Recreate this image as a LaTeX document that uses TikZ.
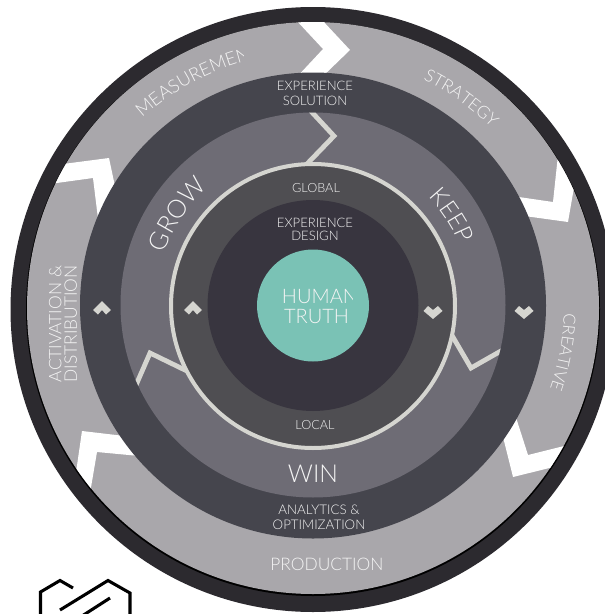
\documentclass[tikz,border=0pt]{standalone}
\usepackage{fontspec}
\setmainfont{Lato}[UprightFont=* Light]
\usetikzlibrary{calc,decorations.text}
\definecolor{rimdark}{HTML}{2C2A2F}
\definecolor{ringgrey}{HTML}{A9A7AB}
\definecolor{ringslate}{HTML}{45454D}
\definecolor{ringmid}{HTML}{6E6C75}
\definecolor{ringpale}{HTML}{D5D5D0}
\definecolor{ringinner}{HTML}{4F4E52}
\definecolor{ringcore}{HTML}{38353F}
\definecolor{truthteal}{HTML}{7AC2B5}
\definecolor{labelwhite}{HTML}{F4F4F4}
\def\arclabel[#1](#2:#3:#4)#5{\path[decorate,decoration={text along path,text align=center,text={|\fontsize{#1}{#1}\selectfont\color{labelwhite}|#5}}] plot[domain=#2:#3,samples=40] ({313+#4*cos(\x)},{306+#4*sin(\x)});}
\tikzset{
	label/.style={text=labelwhite,align=center,inner sep=0pt,font=\fontsize{#1}{#1}\selectfont},
	chevron/.style={fill=white,draw=none},
	zigzag/.style={draw=ringpale,line width=3.6pt,line join=miter},
	tickmark/.style={fill=ringpale,draw=none},
}
\begin{document}
\begin{tikzpicture}[x=0.75pt,y=-0.75pt]
	\useasboundingbox (0,0) rectangle (605,614);
	\clip (0,0) rectangle (605,614);

	% rings
	\fill[rimdark] (313,309.5) circle (302.5);
	\fill[black] (313,309) circle (287);
	\fill[ringgrey] (313,308) circle (286);

	% white chevrons
	\begin{scope}
		\clip (313,308) circle (286);
		\fill[chevron] (296,20) -- (322,20) -- (350,50) -- (320,79) -- (295,79) -- (323,49) -- cycle;
		\fill[chevron] (558,155) -- (553,202) -- (505,195) -- (510,214) -- (568,222) -- (577,170) -- cycle;
		\fill[chevron] (512,405) -- (528,455) -- (580,442) -- (590,458) -- (513,477) -- (500,425) -- cycle;
		\fill[chevron] (150,439) -- (82,431) -- (72,500) -- (88,505) -- (97,452) -- (150,457) -- cycle;
		\fill[chevron] (40,167) -- (109,158) -- (120,210) -- (100,235) -- (93,178) -- (35,186) -- cycle;
	\end{scope}

	\fill[ringslate] (313,305.5) circle (233);
	\fill[ringmid] (313,305) circle (192.5);

	% pale zigzags
	\begin{scope}
		\clip (313,305) circle (192.5);
		\draw[zigzag] (308,108) -- (334,136) -- (306,165);
		\draw[zigzag] (450,332) -- (471,368) -- (508,347);
		\draw[zigzag] (133,392) -- (150,353) -- (187,371);
	\end{scope}

	\fill[ringinner, draw=ringpale, line width=3pt] (313,306) circle (142);
	\fill[ringcore] (313,305.5) circle (105.5);
	\fill[truthteal] (313,305.5) circle (56);

	% small marks
	\fill[tickmark] (102,301) -- (111,310) -- (106,314.5) -- (102,310) -- (98,314.5) -- (93,310) -- cycle;
	\fill[tickmark] (193,301) -- (202,310) -- (197,314.5) -- (193,310) -- (189,314.5) -- (184,310) -- cycle;
	\fill[tickmark] (433,319) -- (442.5,311) -- (438,306) -- (433,310) -- (428,306) -- (423.5,311) -- cycle;
	\fill[tickmark] (524,319) -- (533.5,311) -- (529,306) -- (524,310) -- (519,306) -- (514.5,311) -- cycle;

	% labels round the rings
	\begin{scope}
		\clip (100,30) rectangle (243,140);
		\arclabel[13.7](-145:-89:254){MEASUREMENT}
	\end{scope}
	\arclabel[13](-84:-25:252){STRATEGY}
	\arclabel[12.5](-20:41:251){CREATIVE}
	\arclabel[19](-186:-106:158){GROW}
	\arclabel[18](-73:7:159){KEEP}

	\node[label=13,rotate=90] (activation) at (63,324) {ACTIVATION \&\\[-1.5pt]DISTRIBUTION};
	\node[label=13] (production) at (327,564.5) {PRODUCTION};
	\node[label=9.8] (solution) at (315,93.5) {EXPERIENCE\\[1.5pt]SOLUTION};
	\node[label=9.5] (global) at (316,188.5) {GLOBAL};
	\node[label=9.8] (design) at (315,229.5) {EXPERIENCE\\[0pt]DESIGN};
	\node[label=9.5] (local) at (315,425.5) {LOCAL};
	\node[label=18.5] (win) at (313,473.5) {WIN};
	\node[label=10] (analytics) at (319,517.5) {ANALYTICS \&\\[1.5pt]OPTIMIZATION};
	\begin{scope}
		\clip (270,280) rectangle (352.5,310);
		\node[label=15] (human) at (320,297) {HUMAN};
	\end{scope}
	\node[label=15] (truth) at (316.5,317) {TRUTH};

	% corner logo
	\draw[line width=2.3pt] (40.5,616) -- (40.5,592) -- (60,580.5) -- (73,588);
	\draw[line width=2.3pt] (60,610) -- (108,580.5) -- (130,593) -- (130,616);
	\draw[line width=2.3pt] (110,598) -- (82,616);
\end{tikzpicture}
\end{document}
